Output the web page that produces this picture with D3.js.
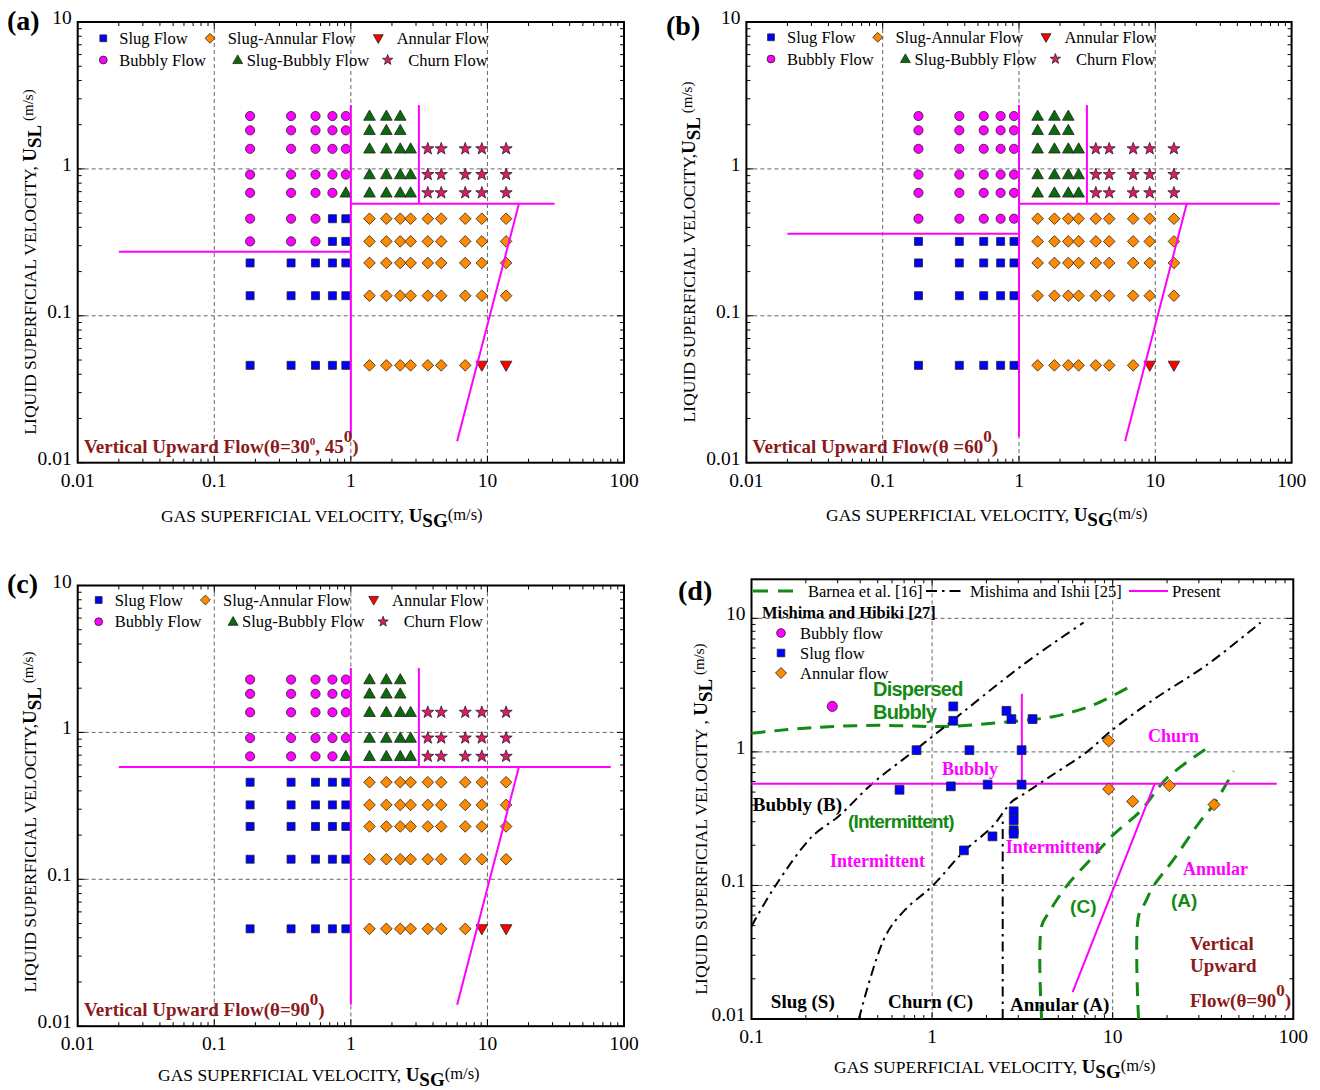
<!DOCTYPE html>
<html><head><meta charset="utf-8">
<script src="https://cdn.jsdelivr.net/npm/d3@7"></script>
<style>
body{margin:0;background:#fff;}
svg{display:block;font-family:"Liberation Serif","Times New Roman",serif;}
</style></head><body>
<svg id="chart" width="1320" height="1090"></svg>
<script>
// ================= DATA =================
// Gas superficial velocity test columns (m/s) and liquid superficial velocity rows (m/s)
const gasVelocityCols = [0.183,0.365,0.551,0.733,0.919,1.37,1.82,2.30,2.74,3.66,4.59,6.88,9.10,13.7];
const liquidVelocityRows = [2.29,1.83,1.37,0.915,0.687,0.458,0.321,0.229,0.137,0.046];
// Regime per row/column: S slug, D slug-annular, A annular, B bubbly, T slug-bubbly, C churn, . none
const regimesA = ["BBBBBTTT......","BBBBBTTT......","BBBBBTTTTCCCCC","BBBBBTTTTCCCCC","BBBBTTTTTCCCCC",
                  "BBBSSDDDDDDDDD","BBBSSDDDDDDDDD","SSSSSDDDDDDDDD","SSSSSDDDDDDDDD","SSSSSDDDDDDDAA"];
const regimesB = ["BBBBBTTT......","BBBBBTTT......","BBBBBTTTTCCCCC","BBBBBTTTTCCCCC","BBBBBTTTTCCCCC",
                  "BBBBBDDDDDDDDD","SSSSSDDDDDDDDD","SSSSSDDDDDDDDD","SSSSSDDDDDDDDD","SSSSSDDDDDDDAA"];
const regimesC = ["BBBBBTTT......","BBBBBTTT......","BBBBBTTTTCCCCC","BBBBBTTTTCCCCC","BBBBTTTTTCCCCC",
                  "SSSSSDDDDDDDDD","SSSSSDDDDDDDDD","SSSSSDDDDDDDDD","SSSSSDDDDDDDDD","SSSSSDDDDDDDAA"];
const legendCodes = ["S","D","A","B","T","C"];
const legendLabels = ["Slug Flow","Slug-Annular Flow","Annular Flow","Bubbly Flow","Slug-Bubbly Flow","Churn Flow"];

// Present-work boundaries (magenta), as [ugs, usl] polylines
const boundaryA = [[[1,0.015],[1,2.72]],[[0.02,0.273],[1,0.273]],[[3.15,0.578],[3.15,2.72]],[[1,0.578],[31,0.578]],[[6.0,0.014],[17,0.578]]];
const boundaryB = [[[1,0.015],[1,2.72]],[[0.02,0.362],[1,0.362]],[[3.15,0.578],[3.15,2.72]],[[1,0.578],[82,0.578]],[[6.0,0.014],[17,0.578]]];
const boundaryC = [[[1,0.014],[1,2.74]],[[0.02,0.582],[80,0.582]],[[3.15,0.582],[3.15,2.74]],[[6.0,0.014],[17,0.582]]];
const boundaryD = [[[0.1,0.578],[81,0.578]],[[3.14,0.578],[3.14,2.72]],[[6.0,0.0159],[17.1,0.578]]];

// Panel (d): Mishima and Hibiki [27] data
const hibikiBubbly = [[0.28,2.19]];
const hibikiSlug = [[1.31,2.19],[1.31,1.71],[2.58,2.03],[2.75,1.76],[3.6,1.76],[0.82,1.03],[1.61,1.03],[3.13,1.03],
  [0.66,0.52],[1.27,0.552],[2.03,0.569],[3.13,0.569],[2.83,0.359],[2.83,0.308],[2.83,0.259],[2.83,0.244],[1.50,0.183],[2.16,0.233]];
const hibikiAnnular = [[9.5,1.21],[9.5,0.527],[12.9,0.426],[20.6,0.559],[36.4,0.403]];
// Barnea et al. [16] (green dashed)
const barneaDispersed = [[0.1,1.38],[0.217,1.52],[0.507,1.58],[1.18,1.55],[2.77,1.69],[4.71,1.84],[7.84,2.25],[12.5,3.09]];
const barneaChurn = [[4.04,0.01],[4.04,0.0495],[4.42,0.0624],[5.59,0.1],[7.68,0.161],[10.1,0.24],[14.2,0.359],[20,0.638],[32.5,1.04]];
const barneaAnnular = [[13.9,0.01],[13.9,0.0589],[15.1,0.0741],[16.8,0.0986],[21.7,0.156],[30.5,0.302],[36.2,0.403],[46.7,0.715]];
// Mishima and Ishii [25] (black dash-dot)
const mishimaBubbly = [[0.1,0.0495],[0.136,0.1],[0.217,0.233],[0.304,0.33],[0.466,0.578],[0.775,0.99],[1.18,1.55],[3.28,4.62],[6.9,9.3]];
const mishimaChurn = [[0.393,0.01],[0.551,0.0417],[0.711,0.066],[1.0,0.0986],[1.5,0.18],[2.16,0.277],[2.77,0.426],[3.08,0.465],
  [4.52,0.656],[7.2,1.0],[9.7,1.42],[16.8,2.46],[33.3,4.49],[65.9,9.3]];
const mishimaAnnular = [[2.46,0.01],[2.46,0.33]];

const xTicksABC = [0.01,0.1,1,10,100];
const yTicksABC = [0.01,0.1,1,10];
const xTicksD = [0.1,1,10,100];
const yTicksD = [0.01,0.1,1,10];

// ================= DRAWING =================
const svg = d3.select("#chart");
const SERIF = '"Liberation Serif","Times New Roman",serif';
const SANS = '"Liberation Sans",Arial,sans-serif';
const MAG = "#ff00ff";
const DARKRED = "#8b1a1a";
const GREEN = "#138a13";

const markerStyle = {
  S:{fill:"#0000ff"}, B:{fill:"#ff00ff"}, D:{fill:"#ff8a00"},
  T:{fill:"#0b6a0b"}, A:{fill:"#ff0000"}, C:{fill:"#e0186c"}
};
function markerPath(code, k){
  k = k || 1;
  const p = d3.path();
  if(code==="S"){ const h=4*k; p.rect(-h,-h,2*h,2*h); }
  else if(code==="B"){ const r=4.6*k; p.moveTo(r,0); p.arc(0,0,r,0,2*Math.PI); p.closePath(); }
  else if(code==="D"){ const r=5.8*k; p.moveTo(0,-r); p.lineTo(r,0); p.lineTo(0,r); p.lineTo(-r,0); p.closePath(); }
  else if(code==="T"){ p.moveTo(0,-6*k); p.lineTo(5.8*k,4.2*k); p.lineTo(-5.8*k,4.2*k); p.closePath(); }
  else if(code==="A"){ p.moveTo(-5.8*k,-4.2*k); p.lineTo(5.8*k,-4.2*k); p.lineTo(0,6*k); p.closePath(); }
  else if(code==="C"){
    const ro=6.4*k, ri=2.6*k;
    for(let i=0;i<10;i++){
      const a=-Math.PI/2+i*Math.PI/5, r=i%2?ri:ro;
      if(i===0) p.moveTo(r*Math.cos(a), r*Math.sin(a)); else p.lineTo(r*Math.cos(a), r*Math.sin(a));
    }
    p.closePath();
  }
  return p.toString();
}
function drawMarker(g, code, x, y, k){
  g.append("path").attr("d", markerPath(code,k)).attr("transform",`translate(${x},${y})`)
    .attr("fill", markerStyle[code].fill).attr("stroke","#222").attr("stroke-width",0.8);
}

function setupPanel(box, xDom, yDom, xTickVals, yTickVals){
  const [x0,y0,x1,y1] = box;
  const x = d3.scaleLog().domain(xDom).range([x0,x1]);
  const y = d3.scaleLog().domain(yDom).range([y1,y0]);
  const g = svg.append("g");
  const gx = xTickVals.filter(v=>v>xDom[0]*1.001 && v<xDom[1]*0.999);
  const gy = yTickVals.filter(v=>v>yDom[0]*1.001 && v<yDom[1]*0.999);
  g.selectAll(".gx").data(gx).join("line").attr("x1",d=>x(d)).attr("x2",d=>x(d)).attr("y1",y0).attr("y2",y1)
    .attr("stroke","#666").attr("stroke-width",1).attr("stroke-dasharray","4,3");
  g.selectAll(".gy").data(gy).join("line").attr("x1",x0).attr("x2",x1).attr("y1",d=>y(d)).attr("y2",d=>y(d))
    .attr("stroke","#666").attr("stroke-width",1).attr("stroke-dasharray","4,3");
  const isMajor = v => Math.abs(Math.log10(v)-Math.round(Math.log10(v)))<1e-6;
  const xt = x.ticks(), yt = y.ticks();
  const tk = g.append("g").attr("stroke","#000").attr("stroke-width",1);
  xt.forEach(v=>{ const L = isMajor(v)?7:4, px=x(v);
    tk.append("line").attr("x1",px).attr("x2",px).attr("y1",y1).attr("y2",y1-L);
    tk.append("line").attr("x1",px).attr("x2",px).attr("y1",y0).attr("y2",y0+L); });
  yt.forEach(v=>{ const L = isMajor(v)?7:4, py=y(v);
    tk.append("line").attr("x1",x0).attr("x2",x0+L).attr("y1",py).attr("y2",py);
    tk.append("line").attr("x1",x1).attr("x2",x1-L).attr("y1",py).attr("y2",py); });
  g.append("rect").attr("x",x0).attr("y",y0).attr("width",x1-x0).attr("height",y1-y0)
    .attr("fill","none").attr("stroke","#000").attr("stroke-width",2);
  g.selectAll(".xl").data(xTickVals).join("text").attr("x",d=>x(d)).attr("y",y1+24)
    .attr("text-anchor","middle").attr("font-size",19.5).text(d=>d3.format("~g")(d));
  g.selectAll(".yl").data(yTickVals).join("text").attr("x",x0-6).attr("y",d=>y(d)+2)
    .attr("text-anchor","end").attr("font-size",19.5).text(d=>d3.format("~g")(d));
  return {x,y,g};
}

function xTitle(xp, yp){
  const t = svg.append("text").attr("x",xp).attr("y",yp).attr("font-size",17.5);
  t.append("tspan").text("GAS SUPERFICIAL VELOCITY, ");
  t.append("tspan").attr("font-weight","bold").attr("font-size",19).text("U");
  t.append("tspan").attr("font-weight","bold").attr("font-size",19).attr("dy",5).text("SG");
  t.append("tspan").attr("font-size",16.5).attr("dy",-7).text("(m/s)");
}
function yTitle(xp, yp, main){
  const t = svg.append("text").attr("transform",`translate(${xp},${yp}) rotate(-90)`)
    .attr("text-anchor","middle").attr("font-size",17.5);
  t.append("tspan").text(main);
  t.append("tspan").attr("font-weight","bold").attr("font-size",19).text("U");
  t.append("tspan").attr("font-weight","bold").attr("font-size",19).attr("dy",5).text("SL");
  t.append("tspan").attr("font-size",15).attr("dy",-8).text(" (m/s)");
}
function panelLabel(txt, xp, yp){
  svg.append("text").attr("x",xp).attr("y",yp).attr("font-size",28).attr("font-weight","bold").text(txt);
}
function flowLabel(g, xp, yp, parts, size){
  const t = g.append("text").attr("x",xp).attr("y",yp).attr("font-size",size||19)
    .attr("font-weight","bold").attr("fill",DARKRED);
  parts.forEach(p=>{ t.append("tspan").attr("font-size",p[1]).attr("dy",p[2]).text(p[0]); });
  return t;
}
const lineGen = (x,y) => d3.line().x(d=>x(d[0])).y(d=>y(d[1]));

// ---------- panels a, b, c ----------
const panels = [
  {box:[77.7,22,624,462.7], regimes:regimesA, bounds:boundaryA, leg:[0,0], lab:"(a)", labPos:[7,30],
   xt:[161,521.7], yt:[36,262], ytxt:"LIQUID SUPERFICIAL VELOCITY, ",
   flow:[["Vertical Upward Flow(θ=30",19,0],["0",11,-8],[", 45",19,8],["0",17,-11],[")",19,11]]},
  {box:[746.4,22,1291.6,462.7], regimes:regimesB, bounds:boundaryB, leg:[-1,-1], lab:"(b)", labPos:[666,35],
   xt:[826,521], yt:[695,252], ytxt:"LIQUID SUPERFICIAL  VELOCITY,",
   flow:[["Vertical Upward Flow(θ =60",19,0],["0",17,-11],[")",19,11]]},
  {box:[77.7,585.5,624,1026.2], regimes:regimesC, bounds:boundaryC, leg:[-4.6,-1.8], lab:"(c)", labPos:[7,593],
   xt:[158,1081], yt:[36,822], ytxt:"LIQUID SUPERFICIAL VELOCITY,",
   flow:[["Vertical Upward Flow(θ=90",19,0],["0",17,-11],[")",19,11]]}
];
const legendLayout = [
  {sx:25.6, tx:41.6, row:0},{sx:132.3, tx:150, row:0},{sx:300.6, tx:319, row:0},
  {sx:25.6, tx:41.6, row:1},{sx:160, tx:169, row:1},{sx:310, tx:330.6, row:1}
];

panels.forEach(P=>{
  const {x,y,g} = setupPanel(P.box,[0.01,100],[0.01,10],xTicksABC,yTicksABC);
  const lx = P.box[0]+P.leg[0], ly = P.box[1]+16.3+P.leg[1];
  legendCodes.forEach((c,i)=>{
    const L = legendLayout[i], cy = ly + L.row*21.7;
    drawMarker(g, c, lx+L.sx, cy, 0.85);
    g.append("text").attr("x",lx+L.tx).attr("y",cy+5.5).attr("font-size",16.5).text(legendLabels[i]);
  });
  liquidVelocityRows.forEach((usl,ri)=>{
    gasVelocityCols.forEach((ugs,ci)=>{
      const c = P.regimes[ri][ci];
      if(c!==".") drawMarker(g, c, x(ugs), y(usl), 1);
    });
  });
  const lg = lineGen(x,y);
  P.bounds.forEach(b=>{
    g.append("path").attr("d",lg(b)).attr("fill","none").attr("stroke",MAG).attr("stroke-width",2);
  });
  flowLabel(g, x(0.0111), y(0.0117), P.flow);
  panelLabel(P.lab, P.labPos[0], P.labPos[1]);
  xTitle(P.xt[0], P.xt[1]);
  yTitle(P.yt[0], P.yt[1], P.ytxt);
});

// ---------- panel d ----------
(function(){
  const box = [751.5,579.3,1293.3,1019];
  const {x,y,g} = setupPanel(box,[0.1,100],[0.01,19.6],xTicksD,yTicksD);
  const lg = lineGen(x,y);
  const smooth = d3.line().x(d=>x(d[0])).y(d=>y(d[1])).curve(d3.curveCatmullRom.alpha(0.5));
  [barneaDispersed, barneaChurn, barneaAnnular].forEach(c=>{
    g.append("path").attr("d",smooth(c)).attr("fill","none").attr("stroke",GREEN)
      .attr("stroke-width",3).attr("stroke-dasharray","14,9");
  });
  [mishimaBubbly, mishimaChurn, mishimaAnnular].forEach(c=>{
    g.append("path").attr("d",smooth(c)).attr("fill","none").attr("stroke","#000")
      .attr("stroke-width",2).attr("stroke-dasharray","10,5,2.5,5");
  });
  boundaryD.forEach(b=>{
    g.append("path").attr("d",lg(b)).attr("fill","none").attr("stroke",MAG).attr("stroke-width",2);
  });
  hibikiBubbly.forEach(d=>drawMarker(g,"B",x(d[0]),y(d[1]),1.1));
  hibikiSlug.forEach(d=>drawMarker(g,"S",x(d[0]),y(d[1]),1.1));
  hibikiAnnular.forEach(d=>drawMarker(g,"D",x(d[0]),y(d[1]),1.05));

  const ann = (txt, xv, yv, opt) => g.append("text").attr("x",x(xv)).attr("y",y(yv))
    .attr("font-family",opt.sans?SANS:SERIF).attr("font-weight","bold")
    .attr("font-size",opt.size).attr("fill",opt.color).attr("letter-spacing",opt.ls||0).text(txt);
  ann("Dispersed",0.471,2.63,{sans:true,size:20,color:GREEN,ls:-0.8});
  ann("Bubbly",0.471,1.77,{sans:true,size:20,color:GREEN,ls:-0.8});
  ann("Bubbly",1.135,0.675,{size:18,color:MAG});
  ann("Bubbly (B)",0.1016,0.363,{size:19,color:"#000"});
  ann("(Intermittent)",0.342,0.267,{sans:true,size:19,color:GREEN,ls:-0.8});
  ann("Intermittent",0.272,0.138,{size:18,color:MAG});
  ann("Intermittent",2.56,0.176,{size:18,color:MAG});
  ann("Churn",15.7,1.19,{size:18,color:MAG});
  ann("Annular",24.5,0.119,{size:18,color:MAG});
  ann("(C)",5.81,0.0627,{sans:true,size:19,color:GREEN});
  ann("(A)",21.0,0.0684,{sans:true,size:19,color:GREEN});
  ann("Slug (S)",0.128,0.012,{size:19,color:"#000"});
  ann("Churn (C)",0.57,0.012,{size:19,color:"#000"});
  ann("Annular (A)",2.70,0.0115,{size:19,color:"#000"});
  ann("Vertical",26.8,0.0326,{size:19,color:DARKRED});
  ann("Upward",26.8,0.0223,{size:19,color:DARKRED});
  flowLabel(g, x(26.8), y(0.0122), [["Flow(θ=90",19,0],["0",17,-11],[")",19,11]]);

  const L = svg.append("g").attr("font-size",16.5);
  L.append("line").attr("x1",753).attr("x2",797).attr("y1",591).attr("y2",591)
    .attr("stroke",GREEN).attr("stroke-width",3).attr("stroke-dasharray","15,10");
  L.append("text").attr("x",808).attr("y",597).text("Barnea et al. [16]");
  L.append("line").attr("x1",926).attr("x2",963).attr("y1",591).attr("y2",591)
    .attr("stroke","#000").attr("stroke-width",2).attr("stroke-dasharray","11,5,2.5,5");
  L.append("text").attr("x",970).attr("y",597).text("Mishima and Ishii [25]");
  L.append("line").attr("x1",1129).attr("x2",1168).attr("y1",591).attr("y2",591)
    .attr("stroke",MAG).attr("stroke-width",2);
  L.append("text").attr("x",1172).attr("y",597).text("Present");
  L.append("text").attr("x",762).attr("y",618).attr("font-weight","bold").text("Mishima and Hibiki [27]");
  [["B","Bubbly flow"],["S","Slug flow"],["D","Annular flow"]].forEach((it,i)=>{
    drawMarker(L, it[0], 781, 633+i*20, 0.95);
    L.append("text").attr("x",800).attr("y",639+i*20).text(it[1]);
  });

  panelLabel("(d)", 678, 600);
  xTitle(834, 1073);
  yTitle(707, 819, "LIQUID SUPERFICIAL  VELOCITY , ");
})();
</script>
</body></html>
